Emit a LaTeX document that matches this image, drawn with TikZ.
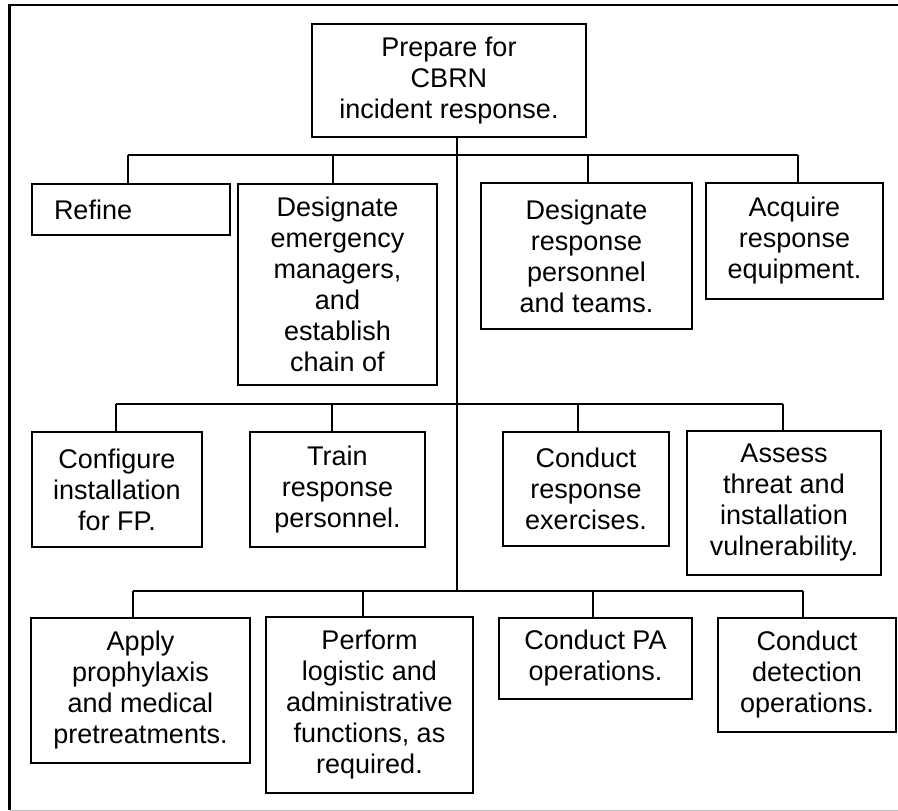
\documentclass[tikz,border=0pt]{standalone}
\usepackage{fontspec}
\setmainfont{Liberation Sans}
\begin{document}
\begin{tikzpicture}[x=1pt,y=-1pt,
  box/.style={draw=black,line width=2.3pt,inner sep=0pt,align=center,
    font=\fontsize{27}{31}\selectfont},
  link/.style={draw=black,line width=1.7pt},
  trunkline/.style={draw=black,line width=2.2pt}]
\useasboundingbox (0,0) rectangle (898,811);
% page frame
\draw[black,line width=2.6pt] (898,5) -- (9.5,5) -- (9.5,810);
\draw[black!25,line width=1.2pt] (10,810.3) -- (898,810.3);

% root
\node[box,minimum width=274pt,minimum height=113pt] (root) at (449,80.5)
  {Prepare for\\CBRN\\incident response.};

% first tier
\node[box,minimum width=198pt,minimum height=51pt,text width=154pt,
  inner xsep=22pt,align=left] (refine) at (131,209.5) {Refine};
\node[box,minimum width=199pt,minimum height=201pt] (desem) at (337.5,284.5)
  {Designate\\emergency\\managers,\\and\\establish\\chain of};
\node[box,minimum width=211pt,minimum height=146pt] (desresp) at (586.5,256)
  {Designate\\response\\personnel\\and teams.};
\node[box,minimum width=177pt,minimum height=116pt] (acquire) at (794.5,241)
  {Acquire\\response\\equipment.};

% second tier
\node[box,minimum width=170pt,minimum height=115pt] (config) at (117,489.5)
  {Configure\\installation\\for FP.};
\node[box,minimum width=175pt,minimum height=115pt] (train) at (337.5,489.5)
  {Train\\response\\personnel.};
\node[box,minimum width=166pt,minimum height=114pt] (exer) at (586,489)
  {Conduct\\response\\exercises.};
\node[box,minimum width=194pt,minimum height=144pt] (assess) at (784,503)
  {Assess\\threat and\\installation\\vulnerability.};

% third tier
\node[box,minimum width=219pt,minimum height=145pt] (apply) at (140.5,690.5)
  {Apply\\prophylaxis\\and medical\\pretreatments.};
\node[box,minimum width=207pt,minimum height=176pt] (perform) at (369.5,705)
  {Perform\\logistic and\\administrative\\functions, as\\required.};
\node[box,minimum width=193pt,minimum height=81pt] (pa) at (595.5,658.5)
  {Conduct PA\\operations.};
\node[box,minimum width=178pt,minimum height=114pt] (detect) at (807,675)
  {Conduct\\detection\\operations.};

% branch points
\coordinate (ta) at ([xshift=8pt]root.south);
\coordinate (tb) at (457,590.7);
\coordinate (a1) at (127.7,155);  \coordinate (a2) at (332.7,155);
\coordinate (a3) at (587.7,155);  \coordinate (a4) at (797.7,155);
\coordinate (b1) at (116,404);    \coordinate (b2) at (332.3,404);
\coordinate (b3) at (578.3,404);  \coordinate (b4) at (782.7,404);
\coordinate (c1) at (132.7,590.7); \coordinate (c2) at (363.3,590.7);
\coordinate (c3) at (592.7,590.7); \coordinate (c4) at (802.7,590.7);

% trunk and bars
\draw[trunkline] (ta) -- (tb);
\draw[link] (a1) -- (a4);
\draw[link] (b1) -- (b4);
\draw[link] (c1) -- (c4);

% drops
\draw[link] (a1) -- (a1 |- refine.north);
\draw[link] (a2) -- (a2 |- desem.north);
\draw[link] (a3) -- (a3 |- desresp.north);
\draw[link] (a4) -- (a4 |- acquire.north);
\draw[link] (b1) -- (b1 |- config.north);
\draw[link] (b2) -- (b2 |- train.north);
\draw[link] (b3) -- (b3 |- exer.north);
\draw[link] (b4) -- (b4 |- assess.north);
\draw[link] (c1) -- (c1 |- apply.north);
\draw[link] (c2) -- (c2 |- perform.north);
\draw[link] (c3) -- (c3 |- pa.north);
\draw[link] (c4) -- (c4 |- detect.north);
\end{tikzpicture}
\end{document}
